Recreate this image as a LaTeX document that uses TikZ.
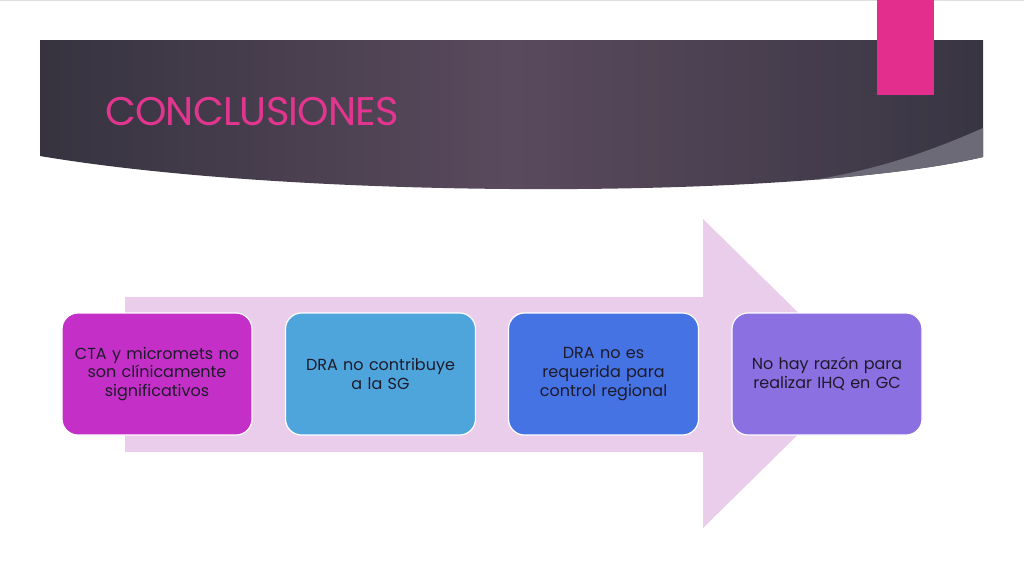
\documentclass[tikz,border=0pt]{standalone}
\usepackage{fontspec}
\setmainfont{Poppins}
\definecolor{bannerdark}{HTML}{36333F}
\definecolor{bannermid}{HTML}{5A4A5D}
\definecolor{bannerright}{HTML}{383543}
\definecolor{swoosh}{HTML}{6C6A76}
\definecolor{titlepink}{HTML}{E2358F}
\definecolor{tabpink}{HTML}{E32E8E}
\definecolor{arrowfill}{HTML}{EACDEB}
\definecolor{boxa}{HTML}{C42FC8}
\definecolor{boxb}{HTML}{4EA5DC}
\definecolor{boxc}{HTML}{4573E3}
\definecolor{boxd}{HTML}{8A70E0}
\definecolor{boxtext}{HTML}{1E1A2A}
\tikzset{
  stepbox/.style={rectangle, rounded corners=16pt, draw=white, line width=1.2pt,
    minimum width=190pt, minimum height=122pt, text width=186pt, align=center,
    text=boxtext, font=\fontsize{16}{18.8}\selectfont, inner sep=0pt},
}
\begin{document}
\begin{tikzpicture}[x=1pt,y=-1pt]
\useasboundingbox (0,0) rectangle (1024,576);
\fill[white] (0,0) rectangle (1024,576);
\fill[black!12] (0,0) rectangle (1024,1.2);
% banner
\begin{scope}
  \clip (40,40) -- (983,40) -- (983,157) .. controls (800,200) and (300,200) .. (40,156) -- cycle;
  \shade[left color=bannerdark, right color=bannerright, middle color=bannermid] (40,40) rectangle (983,200);
  \fill[swoosh] (983,128) .. controls (900,165) and (830,182) .. (730,190) -- (730,220) -- (1000,220) -- (1000,128) -- cycle;
\end{scope}
% pink tab
\fill[tabpink] (877,0) rectangle (934,95);
\node[anchor=base west, inner sep=0pt, text=titlepink, font=\fontsize{40}{44}\selectfont\addfontfeatures{LetterSpace=-2}] (title) at (105,125) {CONCLUSIONES};
% arrow
\fill[arrowfill] (125,297) -- (703,297) -- (703,219) -- (860,373.5) -- (703,528) -- (703,452) -- (125,452) -- cycle;
% boxes
\node[stepbox, fill=boxa] (b1) at (157,374) {CTA y micromets no\\son clínicamente\\significativos};
\node[stepbox, fill=boxb] (b2) at (380.5,374) {DRA no contribuye\\a la SG};
\node[stepbox, fill=boxc] (b3) at (603.5,374) {DRA no es\\requerida para\\control regional};
\node[stepbox, fill=boxd] (b4) at (827,374) {No hay razón para\\realizar IHQ en GC};
\end{tikzpicture}
\end{document}
